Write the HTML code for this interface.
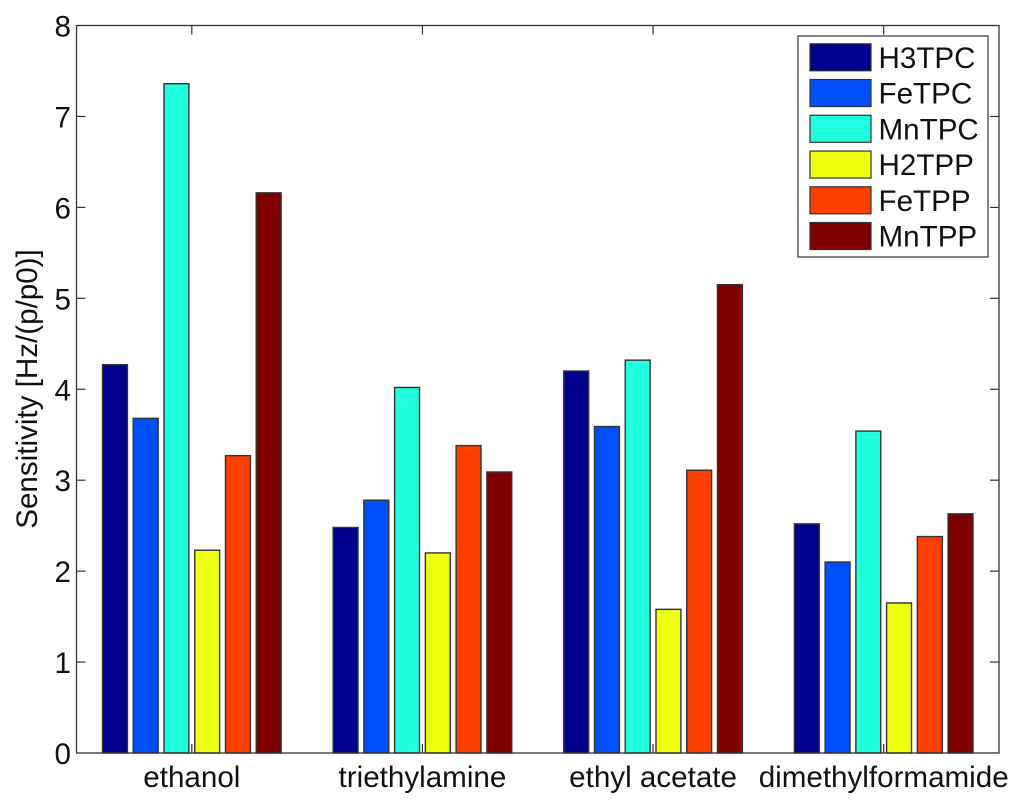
<!DOCTYPE html>
<html>
<head>
<meta charset="utf-8">
<style>
html,body{margin:0;padding:0;background:#fff;}
svg{display:block;filter:blur(0.35px);}
text{font-family:"Liberation Sans",sans-serif;fill:#111;}
</style>
</head>
<body>
<svg id="chart" xmlns="http://www.w3.org/2000/svg" width="1024" height="809" viewBox="0 0 1024 809"></svg>
<script>
const categories = ['ethanol', 'triethylamine', 'ethyl acetate', 'dimethylformamide'];
const seriesNames = ['H3TPC', 'FeTPC', 'MnTPC', 'H2TPP', 'FeTPP', 'MnTPP'];
const H3TPC = [4.27, 2.48, 4.20, 2.52];
const FeTPC = [3.68, 2.78, 3.59, 2.10];
const MnTPC = [7.36, 4.02, 4.32, 3.54];
const H2TPP = [2.23, 2.20, 1.58, 1.65];
const FeTPP = [3.27, 3.38, 3.11, 2.38];
const MnTPP = [6.16, 3.09, 5.15, 2.63];
const seriesValues = [H3TPC, FeTPC, MnTPC, H2TPP, FeTPP, MnTPP];
const seriesColors = ['#00008f', '#0050ff', '#1fffe0', '#efff10', '#ff4000', '#800000'];
const yTicks = [0, 1, 2, 3, 4, 5, 6, 7, 8];

const svg = document.getElementById('chart');
const NS = 'http://www.w3.org/2000/svg';
const L = 76.5, R = 999, T = 25.5, B = 753;
const xDomain = [0.5, 4.5], yDomain = [0, 8];
const FONT = 29.6;
const LINE = '#333';

function xScale(v) { return L + (v - xDomain[0]) / (xDomain[1] - xDomain[0]) * (R - L); }
function yScale(v) { return B - (v - yDomain[0]) / (yDomain[1] - yDomain[0]) * (B - T); }

function make(tag, attrs, parent) {
  const el = document.createElementNS(NS, tag);
  for (const k in attrs) el.setAttribute(k, attrs[k]);
  (parent || svg).appendChild(el);
  return el;
}

const barStep = 0.1333, barWidth = 0.108;

// background
const bg = make('rect', {x: 0, y: 0, width: 1024, height: 809, fill: '#fff'});



// bars
seriesValues.forEach(function (vals, s) {
  vals.forEach(function (v, c) {
    const cx = (c + 1) + (s - 2.5) * barStep;
    const x0 = xScale(cx - barWidth / 2), x1 = xScale(cx + barWidth / 2);
    const y0 = yScale(v), y1 = yScale(0);
    const bar = make('rect', {x: x0, y: y0, width: x1 - x0, height: y1 - y0, fill: seriesColors[s], stroke: LINE, 'stroke-width': 1.4});
    
    
  });
});

// axes frame
const frame = make('rect', {x: L, y: T, width: R - L, height: B - T, fill: 'none', stroke: LINE, 'stroke-width': 1.3});



// y ticks
yTicks.forEach(function (t) {
  const y = yScale(t);
  if (t > yDomain[0] && t < yDomain[1]) {
    const a = make('line', {x1: L, x2: L + 9, y1: y, y2: y, stroke: LINE, 'stroke-width': 1.2});
    
    
    const b = make('line', {x1: R, x2: R - 9, y1: y, y2: y, stroke: LINE, 'stroke-width': 1.2});
    
    
  }
  const lab = make('text', {x: 71, y: y + 11, 'text-anchor': 'end', 'font-size': FONT});
  lab.textContent = String(t);
  
  
});

// x ticks
categories.forEach(function (cat, i) {
  const x = xScale(i + 1);
  const a = make('line', {x1: x, x2: x, y1: B, y2: B - 9, stroke: LINE, 'stroke-width': 1.2});
  
  
  const b = make('line', {x1: x, x2: x, y1: T, y2: T + 9, stroke: LINE, 'stroke-width': 1.2});
  
  
  const lab = make('text', {x: x, y: 787, 'text-anchor': 'middle', 'font-size': FONT});
  lab.textContent = cat;
  
  
});

// y axis title
const yTitle = make('text', {x: 0, y: 0, 'text-anchor': 'middle', 'font-size': FONT, transform: 'translate(37,389) rotate(-90)'});
yTitle.textContent = 'Sensitivity [Hz/(p/p0)]';



// legend
const legend = make('g', {});


const legendBox = make('rect', {x: 798, y: 36, width: 190, height: 221, fill: '#fff', stroke: LINE, 'stroke-width': 1.2}, legend);


seriesNames.forEach(function (name, i) {
  const top = 43.8 + i * 35.75;
  const sw = make('rect', {x: 810, y: top, width: 61, height: 27, fill: seriesColors[i], stroke: LINE, 'stroke-width': 1.2}, legend);
  
  
  const lab = make('text', {x: 878.5, y: top + 24, 'font-size': FONT}, legend);
  lab.textContent = name;
  
  
});
</script>
</body>
</html>
